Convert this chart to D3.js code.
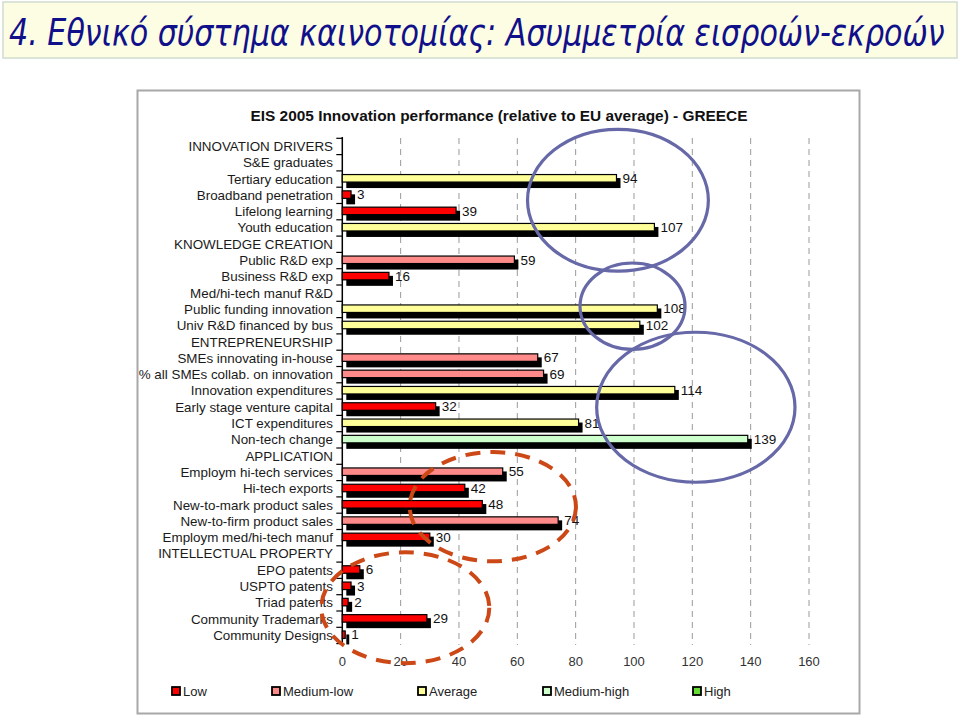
<!DOCTYPE html>
<html><head><meta charset="utf-8">
<script src="https://cdn.jsdelivr.net/npm/d3@7"></script>
<style>
body{margin:0;background:#fff;}
svg{display:block;font-family:"Liberation Sans",Arial,sans-serif;}
</style>
</head><body>
<svg id="c" width="960" height="716"></svg>
<script>
// ---------------- DATA ----------------
const slideTitle = "4. Εθνικό σύστημα καινοτομίας: Ασυμμετρία εισροών-εκροών";
const chartTitle = "EIS 2005 Innovation performance (relative to EU average) - GREECE";

const categories = [
  "INNOVATION DRIVERS","S&E graduates","Tertiary education","Broadband penetration",
  "Lifelong learning","Youth education","KNOWLEDGE CREATION","Public R&D exp",
  "Business R&D exp","Med/hi-tech manuf R&D","Public funding innovation",
  "Univ R&D financed by bus","ENTREPRENEURSHIP","SMEs innovating in-house",
  "% all SMEs collab. on innovation","Innovation expenditures","Early stage venture capital",
  "ICT expenditures","Non-tech change","APPLICATION","Employm hi-tech services",
  "Hi-tech exports","New-to-mark product sales","New-to-firm product sales",
  "Employm med/hi-tech manuf","INTELLECTUAL PROPERTY","EPO patents","USPTO patents",
  "Triad patents","Community Trademarks","Community Designs"
];
const values = [
  null,null,94,3,39,107,null,59,16,null,108,102,null,67,69,114,32,81,139,null,
  55,42,48,74,30,null,6,3,2,29,1
];
const levels = [
  null,null,"Average","Low","Low","Average",null,"Medium-low","Low",null,"Average","Average",null,
  "Medium-low","Medium-low","Average","Low","Average","Medium-high",null,
  "Medium-low","Low","Low","Medium-low","Low",null,"Low","Low","Low","Low","Low"
];
const legendLevels = ["Low","Medium-low","Average","Medium-high","High"];
const levelColors  = ["#ff0000","#ff8a8a","#ffff99","#ccffcc","#66dd33"];
const xTicks = [0,20,40,60,80,100,120,140,160];

// annotation ellipses (value units / row units)
const blueCircles = [
  {v:94.5, row:3.3, rv:31, rr:4.35},
  {v:99.5, row:9.8, rv:18, rr:2.65},
  {v:121.2, row:16.0, rv:34, rr:4.6}
];
const dashedCircles = [
  {v:51.6, row:22.1, rv:28.5, rr:3.35},
  {v:21.6, row:28.3, rv:28.8, rr:3.4}
];

// ---------------- DRAW ----------------
const svg = d3.select("#c");
const color = d3.scaleOrdinal().domain(legendLevels).range(levelColors);

// slide title box
svg.append("rect").attr("x",3).attr("y",2).attr("width",954).attr("height",56)
  .attr("fill","#fdfde4").attr("stroke","#cfdccf").attr("stroke-width",1.5);
const tt = svg.append("text").attr("x",0).attr("y",0)
  .attr("font-family","'DejaVu Sans Condensed','DejaVu Sans',Verdana,sans-serif")
  .attr("font-style","oblique").attr("font-stretch","condensed")
  .attr("font-size",37).attr("fill","#10108a")
  .text(slideTitle);
const natW = tt.node().getComputedTextLength();
tt.attr("transform",`translate(9,45) scale(${936/natW},1)`);

// chart frame
svg.append("rect").attr("x",137.5).attr("y",90.5).attr("width",722).attr("height",623)
  .attr("fill","#fff").attr("stroke","#a8a8a8").attr("stroke-width",2);

svg.append("text").attr("x",499).attr("y",121).attr("text-anchor","middle")
  .attr("font-weight","bold").attr("font-size",15.4).attr("fill","#111")
  .text(chartTitle);

const x = d3.scaleLinear().domain([0,160]).range([342.3,809]);
const y = d3.scaleBand().domain(categories).range([138.3,643.6]).padding(0);
const bw = y.bandwidth();
const pxPerRow = bw;
const rowY = r => y.range()[0] + (r+0.5)*pxPerRow;

// gridlines
svg.append("g").selectAll("line").data(xTicks.filter(d=>d>0)).join("line")
  .attr("x1",d=>x(d)).attr("x2",d=>x(d)).attr("y1",138).attr("y2",645)
  .attr("stroke","#9a9a9a").attr("stroke-width",1).attr("stroke-dasharray","6,5");

// x tick labels
svg.append("g").selectAll("text").data(xTicks).join("text")
  .attr("x",d=>x(d)).attr("y",666).attr("text-anchor","middle")
  .attr("font-size",13).attr("fill","#333").text(d=>d);

// y axis line & ticks
svg.append("line").attr("x1",x(0)).attr("x2",x(0)).attr("y1",137).attr("y2",645)
  .attr("stroke","#000").attr("stroke-width",1.5);
svg.append("g").selectAll("line").data(d3.range(categories.length+1)).join("line")
  .attr("x1",x(0)-6).attr("x2",x(0))
  .attr("y1",i=>y.range()[0]+i*bw).attr("y2",i=>y.range()[0]+i*bw)
  .attr("stroke","#000").attr("stroke-width",1.2);

// category labels
svg.append("g").selectAll("text").data(categories).join("text")
  .attr("x",333).attr("y",d=>y(d)+bw/2+4.5).attr("text-anchor","end")
  .attr("font-size",13.4).attr("fill","#1a1a1a").text(d=>d);

// bars
const rows = categories.map((c,i)=>({c, v:values[i], lvl:levels[i]})).filter(d=>d.v!==null);
const bars = svg.append("g");
bars.selectAll("rect.sh").data(rows).join("rect").attr("class","sh")
  .attr("x",x(0)+4).attr("y",d=>y(d.c)+bw/2-1)
  .attr("width",d=>x(d.v)-x(0)).attr("height",10).attr("fill","#000");
bars.selectAll("rect.bar").data(rows).join("rect").attr("class","bar")
  .attr("x",x(0)).attr("y",d=>y(d.c)+bw/2-4.5)
  .attr("width",d=>x(d.v)-x(0)).attr("height",7.5)
  .attr("fill",d=>color(d.lvl)).attr("stroke","#000").attr("stroke-width",1.2);
bars.selectAll("text").data(rows).join("text")
  .attr("x",d=>x(d.v)+6).attr("y",d=>y(d.c)+bw/2+4)
  .attr("font-size",13.5).attr("fill","#111").text(d=>d.v);

// legend
const legX = [172,272,418,543,693];
const leg = svg.append("g").selectAll("g").data(legendLevels).join("g")
  .attr("transform",(d,i)=>`translate(${legX[i]},691)`);
leg.append("rect").attr("x",0).attr("y",-4).attr("width",8).attr("height",8)
  .attr("fill",d=>color(d)).attr("stroke","#000").attr("stroke-width",1.8);
leg.append("text").attr("x",11).attr("y",5).attr("font-size",13).attr("fill","#222").text(d=>d);

// annotations
const ppu = x(1)-x(0);
svg.append("g").selectAll("ellipse").data(blueCircles).join("ellipse")
  .attr("cx",d=>x(d.v)).attr("cy",d=>rowY(d.row))
  .attr("rx",d=>d.rv*ppu).attr("ry",d=>d.rr*pxPerRow)
  .attr("fill","none").attr("stroke","#6668a8").attr("stroke-width",3.2);
svg.append("g").selectAll("ellipse").data(dashedCircles).join("ellipse")
  .attr("cx",d=>x(d.v)).attr("cy",d=>rowY(d.row))
  .attr("rx",d=>d.rv*ppu).attr("ry",d=>d.rr*pxPerRow)
  .attr("fill","none").attr("stroke","#cc4816").attr("stroke-width",4)
  .attr("stroke-dasharray","15,10");
</script>
</body></html>
